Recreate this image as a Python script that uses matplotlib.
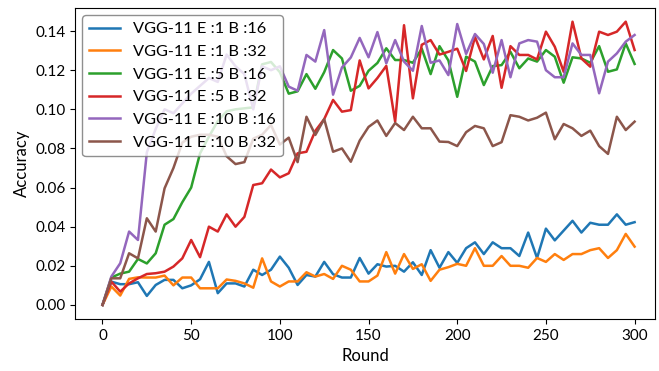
import matplotlib
matplotlib.use("Agg")
import matplotlib.pyplot as plt

plt.rcParams['font.family'] = ['Lato', 'DejaVu Sans']

rounds = list(range(0, 301, 5))

labels = ["VGG-11 E :1 B :16", "VGG-11 E :1 B :32", "VGG-11 E :5 B :16",
          "VGG-11 E :5 B :32", "VGG-11 E :10 B :16", "VGG-11 E :10 B :32"]

e1_b16 = [0.000, 0.0119, 0.0106, 0.0106, 0.0116, 0.0046, 0.0102, 0.0128, 0.0128, 0.0085,
          0.0100, 0.0131, 0.0220, 0.0060, 0.0110, 0.0110, 0.0094, 0.0180, 0.0153, 0.0180,
          0.0247, 0.0190, 0.0102, 0.0153, 0.0145, 0.0220, 0.0157, 0.0140, 0.0140, 0.0240,
          0.0160, 0.0208, 0.0196, 0.0200, 0.0170, 0.0218, 0.0153, 0.0280, 0.0190, 0.0270,
          0.0215, 0.0290, 0.0320, 0.0260, 0.0320, 0.0290, 0.0290, 0.0250, 0.0370, 0.0240,
          0.0390, 0.0330, 0.0380, 0.0430, 0.0370, 0.0420, 0.0410, 0.0410, 0.0463, 0.0410,
          0.0423]

e1_b32 = [0.000, 0.0094, 0.0048, 0.0133, 0.0141, 0.0140, 0.0140, 0.0150, 0.0100, 0.0140,
          0.0140, 0.0085, 0.0085, 0.0085, 0.0130, 0.0123, 0.0110, 0.0088, 0.0238, 0.0120,
          0.0094, 0.0120, 0.0120, 0.0167, 0.0145, 0.0158, 0.0133, 0.0200, 0.0180, 0.0120,
          0.0120, 0.0150, 0.0270, 0.0160, 0.0260, 0.0184, 0.0208, 0.0123, 0.0180, 0.0193,
          0.0210, 0.0200, 0.0290, 0.0200, 0.0200, 0.0250, 0.0200, 0.0200, 0.0190, 0.0240,
          0.0220, 0.0260, 0.0230, 0.0260, 0.0260, 0.0280, 0.0290, 0.0240, 0.0280, 0.0363,
          0.0298]

e5_b16 = [0.000, 0.0140, 0.0160, 0.0170, 0.0235, 0.0212, 0.0264, 0.0410, 0.0439, 0.0525,
          0.0600, 0.0775, 0.0860, 0.0940, 0.0990, 0.1000, 0.1005, 0.1010, 0.1230, 0.1242,
          0.1190, 0.1080, 0.1092, 0.1180, 0.1105, 0.1190, 0.1303, 0.1260, 0.1095, 0.1120,
          0.1197, 0.1237, 0.1312, 0.1252, 0.1252, 0.1238, 0.1310, 0.1180, 0.1323, 0.1250,
          0.1064, 0.1269, 0.1244, 0.1124, 0.1221, 0.1226, 0.1294, 0.1210, 0.1260, 0.1244,
          0.1303, 0.1269, 0.1136, 0.1266, 0.1260, 0.1238, 0.1323, 0.1192, 0.1204, 0.1337,
          0.1232]

e5_b32 = [0.000, 0.0119, 0.0068, 0.0110, 0.0136, 0.0158, 0.0162, 0.0170, 0.0196, 0.0238,
          0.0332, 0.0244, 0.0400, 0.0375, 0.0463, 0.0400, 0.0450, 0.0613, 0.0622, 0.0692,
          0.0652, 0.0673, 0.0775, 0.0783, 0.0890, 0.0950, 0.1048, 0.0988, 0.0996, 0.1250,
          0.1107, 0.1160, 0.1222, 0.0937, 0.1430, 0.1056, 0.1330, 0.1354, 0.1280, 0.1294,
          0.1310, 0.1196, 0.1370, 0.1255, 0.1375, 0.1110, 0.1323, 0.1278, 0.1278, 0.1255,
          0.1397, 0.1320, 0.1192, 0.1448, 0.1260, 0.1218, 0.1397, 0.1380, 0.1397, 0.1448,
          0.1303]

e10_b16 = [0.000, 0.0145, 0.0213, 0.0375, 0.0332, 0.0780, 0.0900, 0.1000, 0.0980, 0.1030,
           0.1080, 0.1120, 0.1160, 0.1140, 0.1280, 0.1220, 0.1180, 0.1000, 0.1220, 0.1200,
           0.1220, 0.1116, 0.1095, 0.1278, 0.1244, 0.1405, 0.1075, 0.1214, 0.1265, 0.1365,
           0.1266, 0.1395, 0.1235, 0.1354, 0.1244, 0.1197, 0.1426, 0.1238, 0.1250, 0.1175,
           0.1436, 0.1283, 0.1385, 0.1334, 0.1187, 0.1354, 0.1164, 0.1337, 0.1354, 0.1346,
           0.1200, 0.1164, 0.1164, 0.1337, 0.1278, 0.1278, 0.1082, 0.1244, 0.1286, 0.1346,
           0.1380]

e10_b32 = [0.000, 0.0136, 0.0136, 0.0264, 0.0238, 0.0443, 0.0375, 0.0596, 0.0700, 0.0830,
           0.0860, 0.0870, 0.0870, 0.0860, 0.0760, 0.0720, 0.0730, 0.0850, 0.0870, 0.0920,
           0.0820, 0.0855, 0.0730, 0.0962, 0.0869, 0.0950, 0.0783, 0.0800, 0.0732, 0.0840,
           0.0910, 0.0943, 0.0864, 0.0930, 0.0894, 0.0962, 0.0903, 0.0903, 0.0835, 0.0833,
           0.0812, 0.0883, 0.0915, 0.0903, 0.0812, 0.0832, 0.0970, 0.0962, 0.0943, 0.0957,
           0.0983, 0.0847, 0.0925, 0.0903, 0.0864, 0.0891, 0.0812, 0.0772, 0.0962, 0.0894,
           0.0937]

series = [e1_b16, e1_b32, e5_b16, e5_b32, e10_b16, e10_b32]
colors = ['#1f77b4', '#ff7f0e', '#2ca02c', '#d62728', '#9467bd', '#8c564b']

fig = plt.figure(figsize=(6.59, 3.71), dpi=100)
ax = fig.add_axes([75/659, 1 - 319/371, (655-75)/659, (319-8)/371])

for vals, lab, c in zip(series, labels, colors):
    ax.plot(rounds, vals, color=c, lw=1.8, label=lab)

ax.set_xlim(-15.5, 311.5)
ax.set_ylim(-0.0072, 0.1518)
ax.set_xticks([0, 50, 100, 150, 200, 250, 300])
ax.set_yticks([0.00, 0.02, 0.04, 0.06, 0.08, 0.10, 0.12, 0.14])
ax.set_yticklabels([f"{v:.2f}" for v in [0.00, 0.02, 0.04, 0.06, 0.08, 0.10, 0.12, 0.14]])
ax.tick_params(labelsize=11)
ax.set_xlabel("Round", fontsize=12)
ax.set_ylabel("Accuracy", fontsize=12)

leg = ax.legend(loc='upper left', fontsize=11.8, framealpha=0.8, edgecolor='0.45',
                borderaxespad=0.45, handlelength=1.9)

fig.savefig("out.png", dpi=100)
